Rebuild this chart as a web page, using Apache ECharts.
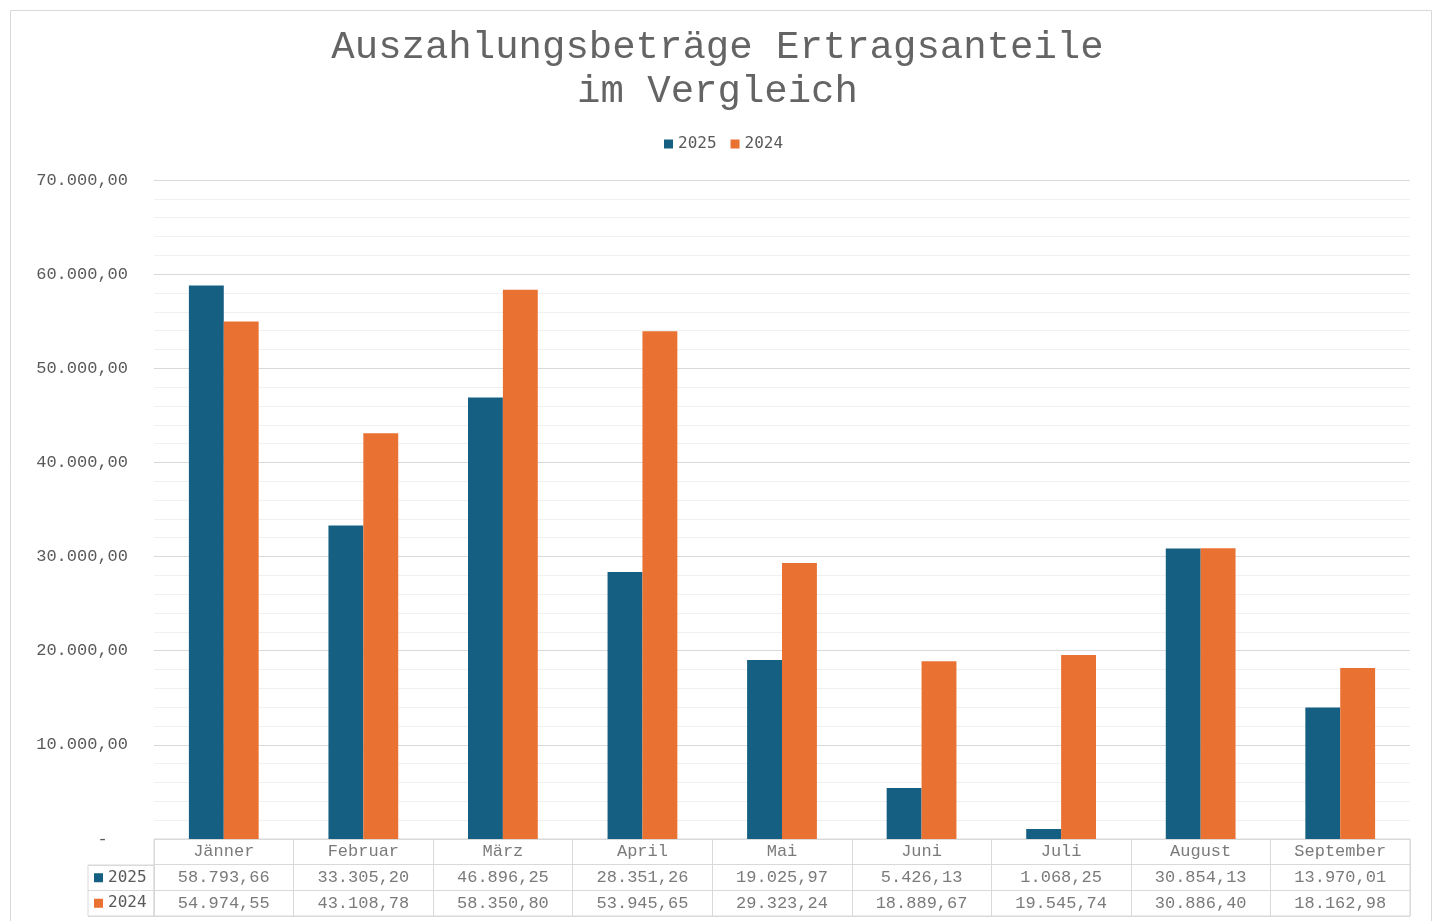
<!DOCTYPE html>
<html>
<head>
<meta charset="utf-8">
<title>Auszahlungsbeträge Ertragsanteile</title>
<script src="https://cdn.jsdelivr.net/npm/echarts@6/dist/echarts.min.js"></script>
<style>
  html, body { margin: 0; padding: 0; background: #fff; }
  #chart { width: 1435px; height: 921px; }
</style>
</head>
<body>
<div id="chart"></div>
<script>
// Daten
const monate = ['Jänner', 'Februar', 'März', 'April', 'Mai', 'Juni', 'Juli', 'August', 'September'];
const jahre = ['2025', '2024'];
const werte2025 = [58793.66, 33305.20, 46896.25, 28351.26, 19025.97, 5426.13, 1068.25, 30854.13, 13970.01];
const werte2024 = [54974.55, 43108.78, 58350.80, 53945.65, 29323.24, 18889.67, 19545.74, 30886.40, 18162.98];
const farben = ['#156082', '#E97132'];

const grau = '#595959';
const linie = '#d9d9d9';
const mono = '"Liberation Mono", "Courier New", monospace';
const sansMono = '"DejaVu Sans Mono", monospace';

// 12345.6 -> "12.345,60"
function fmt(v) {
  let parts = v.toFixed(2).split('.');
  parts[0] = parts[0].replace(/\B(?=(\d{3})+(?!\d))/g, '.');
  return parts[0] + ',' + parts[1];
}

// Tabellenzellen: Kopfzeile + zwei Wertezeilen
let zellen = [];
monate.forEach(function (m, i) {
  zellen.push({ value: [m, 'kopf'], name: m });
  zellen.push({ value: [m, '2025'], name: fmt(werte2025[i]) });
  zellen.push({ value: [m, '2024'], name: fmt(werte2024[i]) });
});

let mychart = echarts.init(document.getElementById('chart'));
let option = {
  animation: false,
  title: {
    text: 'Auszahlungsbeträge Ertragsanteile\nim Vergleich',
    left: 'center',
    top: 21,
    textStyle: { fontFamily: mono, fontSize: 39, fontWeight: 'normal', color: '#646464', lineHeight: 44 }
  },
  legend: {
    data: jahre,
    left: 659,
    top: 131,
    icon: 'rect',
    itemWidth: 9,
    itemHeight: 9,
    itemGap: 14,
    textStyle: { fontFamily: sansMono, fontSize: 16, color: grau }
  },
  graphic: [{
    type: 'rect',
    shape: { x: 10.5, y: 10.5, width: 1421, height: 930 },
    style: { fill: 'none', stroke: linie, lineWidth: 1 },
    silent: true
  }],
  grid: [
    { left: 154, right: 25, top: 180, bottom: 82 },
    { left: 154, right: 25, top: 839, bottom: 5, show: true, borderColor: linie, borderWidth: 1 },
    { left: 88, width: 66, top: 865, bottom: 5, show: true, borderColor: linie, borderWidth: 1 }
  ],
  xAxis: [
    {
      gridIndex: 0, type: 'category', data: monate,
      axisLine: { show: false }, axisTick: { show: false }, axisLabel: { show: false }
    },
    {
      gridIndex: 1, type: 'category', data: monate,
      axisLine: { show: false }, axisTick: { show: false, interval: 0 },
      axisLabel: { show: false, interval: 0 },
      splitLine: { show: true, interval: 0, lineStyle: { color: linie } }
    },
    {
      gridIndex: 2, type: 'category', data: [''],
      axisLine: { show: false }, axisTick: { show: false }, axisLabel: { show: false }
    }
  ],
  yAxis: [
    {
      gridIndex: 0, type: 'value', min: 0, max: 70000, interval: 10000,
      axisLine: { show: false }, axisTick: { show: false },
      axisLabel: {
        margin: 26, fontFamily: mono, fontSize: 17, color: grau,
        formatter: function (v) { return v === 0 ? '-  ' : fmt(v); }
      },
      splitLine: { lineStyle: { color: linie } },
      minorTick: { show: false, splitNumber: 5 },
      minorSplitLine: { show: true, lineStyle: { color: '#f0f0f0' } }
    },
    {
      gridIndex: 1, type: 'category', inverse: true, data: ['kopf', '2025', '2024'],
      axisLine: { show: false }, axisTick: { show: false, interval: 0 },
      axisLabel: { show: false, interval: 0 },
      splitLine: { show: true, interval: 0, lineStyle: { color: linie } }
    },
    {
      gridIndex: 2, type: 'category', inverse: true, data: jahre,
      axisLine: { show: false }, axisTick: { show: false, interval: 0 },
      axisLabel: {
        inside: true, margin: 6, interval: 0,
        formatter: function (v, i) { return '{q' + i + '|}{t|' + v + '}'; },
        rich: {
          q0: { width: 9, height: 9, backgroundColor: farben[0] },
          q1: { width: 9, height: 9, backgroundColor: farben[1] },
          t: { fontFamily: sansMono, fontSize: 16, color: grau, padding: [0, 0, 0, 5] }
        }
      },
      splitLine: { show: true, interval: 0, lineStyle: { color: linie } }
    }
  ],
  series: [
    {
      name: '2025', type: 'bar', data: werte2025,
      xAxisIndex: 0, yAxisIndex: 0,
      barGap: '0%', barCategoryGap: '50%',
      itemStyle: { color: farben[0] }
    },
    {
      name: '2024', type: 'bar', data: werte2024,
      xAxisIndex: 0, yAxisIndex: 0,
      barGap: '0%', barCategoryGap: '50%',
      itemStyle: { color: farben[1] }
    },
    {
      name: 'tabelle', type: 'scatter', data: zellen,
      xAxisIndex: 1, yAxisIndex: 1,
      symbolSize: 1, itemStyle: { color: 'rgba(0,0,0,0)' }, silent: true,
      label: {
        show: true, position: 'inside', formatter: '{b}',
        fontFamily: mono, fontSize: 17, color: grau
      },
      emphasis: { disabled: true }
    }
  ]
};
mychart.setOption(option);
</script>
</body>
</html>
